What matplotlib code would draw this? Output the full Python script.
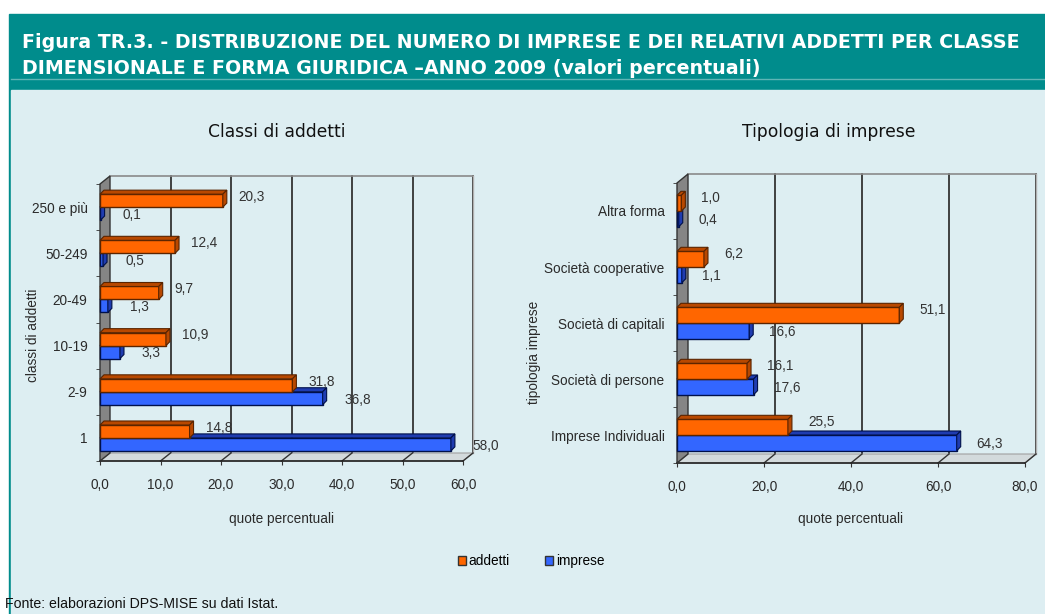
import matplotlib
matplotlib.use('Agg')
import matplotlib.pyplot as plt
from matplotlib import font_manager
from matplotlib.patches import Polygon, Rectangle, Patch

# Figure TR.3 data (percentages)
classi = ['1', '2-9', '10-19', '20-49', '50-249', '250 e più']
classi_addetti = [14.8, 31.8, 10.9, 9.7, 12.4, 20.3]
classi_imprese = [58.0, 36.8, 3.3, 1.3, 0.5, 0.1]

tipologie = ['Imprese Individuali', 'Società di persone', 'Società di capitali',
             'Società cooperative', 'Altra forma']
tipo_addetti = [25.5, 16.1, 51.1, 6.2, 1.0]
tipo_imprese = [64.3, 17.6, 16.6, 1.1, 0.4]

left_ticks = [0, 10, 20, 30, 40, 50, 60]
right_ticks = [0, 20, 40, 60, 80]

W, H = 1045, 614
TEAL = '#008C8C'
PANEL = '#DDEEF2'
ORANGE, ORANGE_DARK, ORANGE_EDGE = '#FF6600', '#B84800', '#5A2400'
BLUE, BLUE_DARK, BLUE_EDGE = '#3366FF', '#1F3CB0', '#00104A'
TXT = '#2a2a2a'

names = {f.name for f in font_manager.fontManager.ttflist}
NARROW = 'Liberation Sans Narrow' if 'Liberation Sans Narrow' in names else 'Liberation Sans'
SANS = 'Liberation Sans'
FS = 9.8

fig = plt.figure(figsize=(W / 100, H / 100), dpi=100)

# background: header band and light panel, in pixel coordinates
bg = fig.add_axes([0, 0, 1, 1], zorder=-5)
bg.set_xlim(0, W)
bg.set_ylim(H, 0)
bg.axis('off')
bg.add_patch(Rectangle((0, 0), W, H, color='white'))
bg.add_patch(Rectangle((9, 14), W - 9, H - 14, color=TEAL))
bg.add_patch(Rectangle((11, 90), W - 11, H - 90, color=PANEL))
bg.plot([11, W], [79, 79], color='#5FB5B5', lw=1)


def px_axes(x0, y0, x1, y1):
    ax = fig.add_axes([x0 / W, 1 - y1 / H, (x1 - x0) / W, (y1 - y0) / H])
    ax.patch.set_alpha(0)
    return ax, x1 - x0, y1 - y0


def fmt(v):
    return f'{v:.1f}'.replace('.', ',')


def draw_chart(ax, w_px, h_px, cats, v_add, v_imp, ticks, depth, bar_h, lab_px):
    n = len(cats)
    xmax = ticks[-1]
    ylo, yhi = -0.5, n - 0.5
    ax.set_xlim(0, xmax)
    ax.set_ylim(ylo, yhi)
    ux = xmax / w_px
    uy = n / h_px
    dx, dy = depth[0] * ux, depth[1] * uy
    bdx, bdy = 4 * ux, 4 * uy

    # back plane, grid, wall and floor of the 3D frame
    for t in ticks[1:]:
        ax.plot([t + dx, t + dx], [ylo + dy, yhi + dy], color='#333333', lw=1.3,
                clip_on=False, zorder=1)
        ax.plot([t, t + dx], [ylo, ylo + dy], color='#333333', lw=1, clip_on=False, zorder=2)
    ax.plot([dx, xmax + dx], [yhi + dy, yhi + dy], color='#8a8a8a', lw=1.2, clip_on=False, zorder=1)
    ax.plot([xmax + dx, xmax + dx], [ylo + dy, yhi + dy], color='#b0b0b0', lw=1, clip_on=False, zorder=1)
    ax.add_patch(Polygon([(0, ylo), (xmax, ylo), (xmax + dx, ylo + dy), (dx, ylo + dy)],
                         closed=True, facecolor='#d3dadc', edgecolor='#a0a0a0', lw=0.8,
                         clip_on=False, zorder=1.5))
    ax.plot([0, xmax], [ylo, ylo], color='#222222', lw=1.2, clip_on=False, zorder=2)
    ax.add_patch(Polygon([(0, ylo), (0, yhi), (dx, yhi + dy), (dx, ylo + dy)],
                         closed=True, facecolor='#858585', edgecolor='#333333', lw=1,
                         clip_on=False, zorder=2))

    pos = range(n)
    series = [(v_imp, [i - bar_h for i in pos], BLUE, BLUE_DARK, BLUE_EDGE),
              (v_add, list(pos), ORANGE, ORANGE_DARK, ORANGE_EDGE)]
    for vals, bottoms, face, dark, edge in series:
        ax.barh([b + bar_h / 2 for b in bottoms], vals, height=bar_h, left=0,
                color=face, edgecolor=edge, lw=1, zorder=3, clip_on=False)
        for v, b in zip(vals, bottoms):
            top = b + bar_h
            ax.add_patch(Polygon([(0, top), (v, top), (v + bdx, top + bdy), (bdx, top + bdy)],
                                 closed=True, facecolor=dark, edgecolor=edge, lw=0.8,
                                 zorder=3, clip_on=False))
            ax.add_patch(Polygon([(v, b), (v, top), (v + bdx, top + bdy), (v + bdx, b + bdy)],
                                 closed=True, facecolor=dark, edgecolor=edge, lw=0.8,
                                 zorder=3, clip_on=False))

    # value labels
    for i in pos:
        ax.annotate(fmt(v_add[i]), xy=(v_add[i], i + bar_h), xytext=(lab_px[0] * 0.72, -2),
                    textcoords='offset points', ha='left', va='center', fontsize=FS,
                    family=NARROW, color='#333333', zorder=5)
        ax.annotate(fmt(v_imp[i]), xy=(v_imp[i], i - bar_h * 0.6), xytext=(lab_px[1] * 0.72, 0),
                    textcoords='offset points', ha='left', va='center', fontsize=FS,
                    family=NARROW, color='#333333', zorder=5)

    for s in ax.spines.values():
        s.set_visible(False)
    ax.set_yticks(list(pos))
    ax.set_yticklabels(cats, family=NARROW, fontsize=FS, color=TXT)
    ax.set_yticks([k - 0.5 for k in range(n + 1)], minor=True)
    ax.tick_params(axis='y', which='major', length=0, pad=9)
    ax.tick_params(axis='y', which='minor', length=3, color='#333333')
    ax.set_xticks(ticks)
    ax.set_xticklabels([fmt(t) for t in ticks], family=NARROW, fontsize=FS, color=TXT)
    ax.tick_params(axis='x', length=3, color='#333333', pad=9)


axL, wL, hL = px_axes(100, 184, 463, 461)
draw_chart(axL, wL, hL, classi, classi_addetti, classi_imprese, left_ticks,
           (10, 8), 0.28, (16, 22))
axL.set_xlabel('quote percentuali', family=NARROW, fontsize=FS, color=TXT, labelpad=15)
axL.set_ylabel('classi di addetti', family=NARROW, fontsize=FS, color=TXT)
axL.yaxis.set_label_coords(-0.165, 0.455)

axR, wR, hR = px_axes(677, 183, 1025, 463)
draw_chart(axR, wR, hR, tipologie, tipo_addetti, tipo_imprese, right_ticks,
           (11, 9), 0.28, (20, 20))
axR.set_xlabel('quote percentuali', family=NARROW, fontsize=FS, color=TXT, labelpad=13)
axR.set_ylabel('tipologia imprese', family=NARROW, fontsize=FS, color=TXT)
axR.yaxis.set_label_coords(-0.39, 0.396)

# chart titles
fig.text(277 / W, 1 - 132 / H, 'Classi di addetti', ha='center', va='center',
         fontsize=12.3, family='DejaVu Sans', color='#111111')
fig.text(829 / W, 1 - 132 / H, 'Tipologia di imprese', ha='center', va='center',
         fontsize=12.3, family='DejaVu Sans', color='#111111')

# header title, scaled to the width of the band
t1 = fig.text(22 / W, 1 - 43 / H,
              'Figura TR.3. - DISTRIBUZIONE DEL NUMERO DI IMPRESE E DEI RELATIVI ADDETTI PER CLASSE',
              ha='left', va='center', fontsize=12, weight='bold', color='white', family='DejaVu Sans')
t2 = fig.text(22 / W, 1 - 68 / H,
              'DIMENSIONALE E FORMA GIURIDICA \u2013ANNO 2009 (valori percentuali)',
              ha='left', va='center', fontsize=12, weight='bold', color='white', family='DejaVu Sans')
fig.canvas.draw()
w1 = t1.get_window_extent().width
size = 12 * 993 / w1
t1.set_fontsize(size)
t2.set_fontsize(size)

# legend
handles = [Patch(facecolor=ORANGE, edgecolor='#333333', label='addetti'),
           Patch(facecolor=BLUE, edgecolor='#333333', label='imprese')]
fig.legend(handles=handles, loc='center', bbox_to_anchor=(531 / W, 1 - 561 / H), ncol=2,
           frameon=False, handlelength=0.6, handleheight=0.6, handletextpad=0.2,
           columnspacing=2.6, prop={'family': NARROW, 'size': FS})

fig.text(5 / W, 1 - 604 / H, 'Fonte: elaborazioni DPS-MISE su dati Istat.', ha='left', va='center',
         fontsize=10.2, family=SANS, color='#111111')

fig.savefig('out.png', dpi=100)
